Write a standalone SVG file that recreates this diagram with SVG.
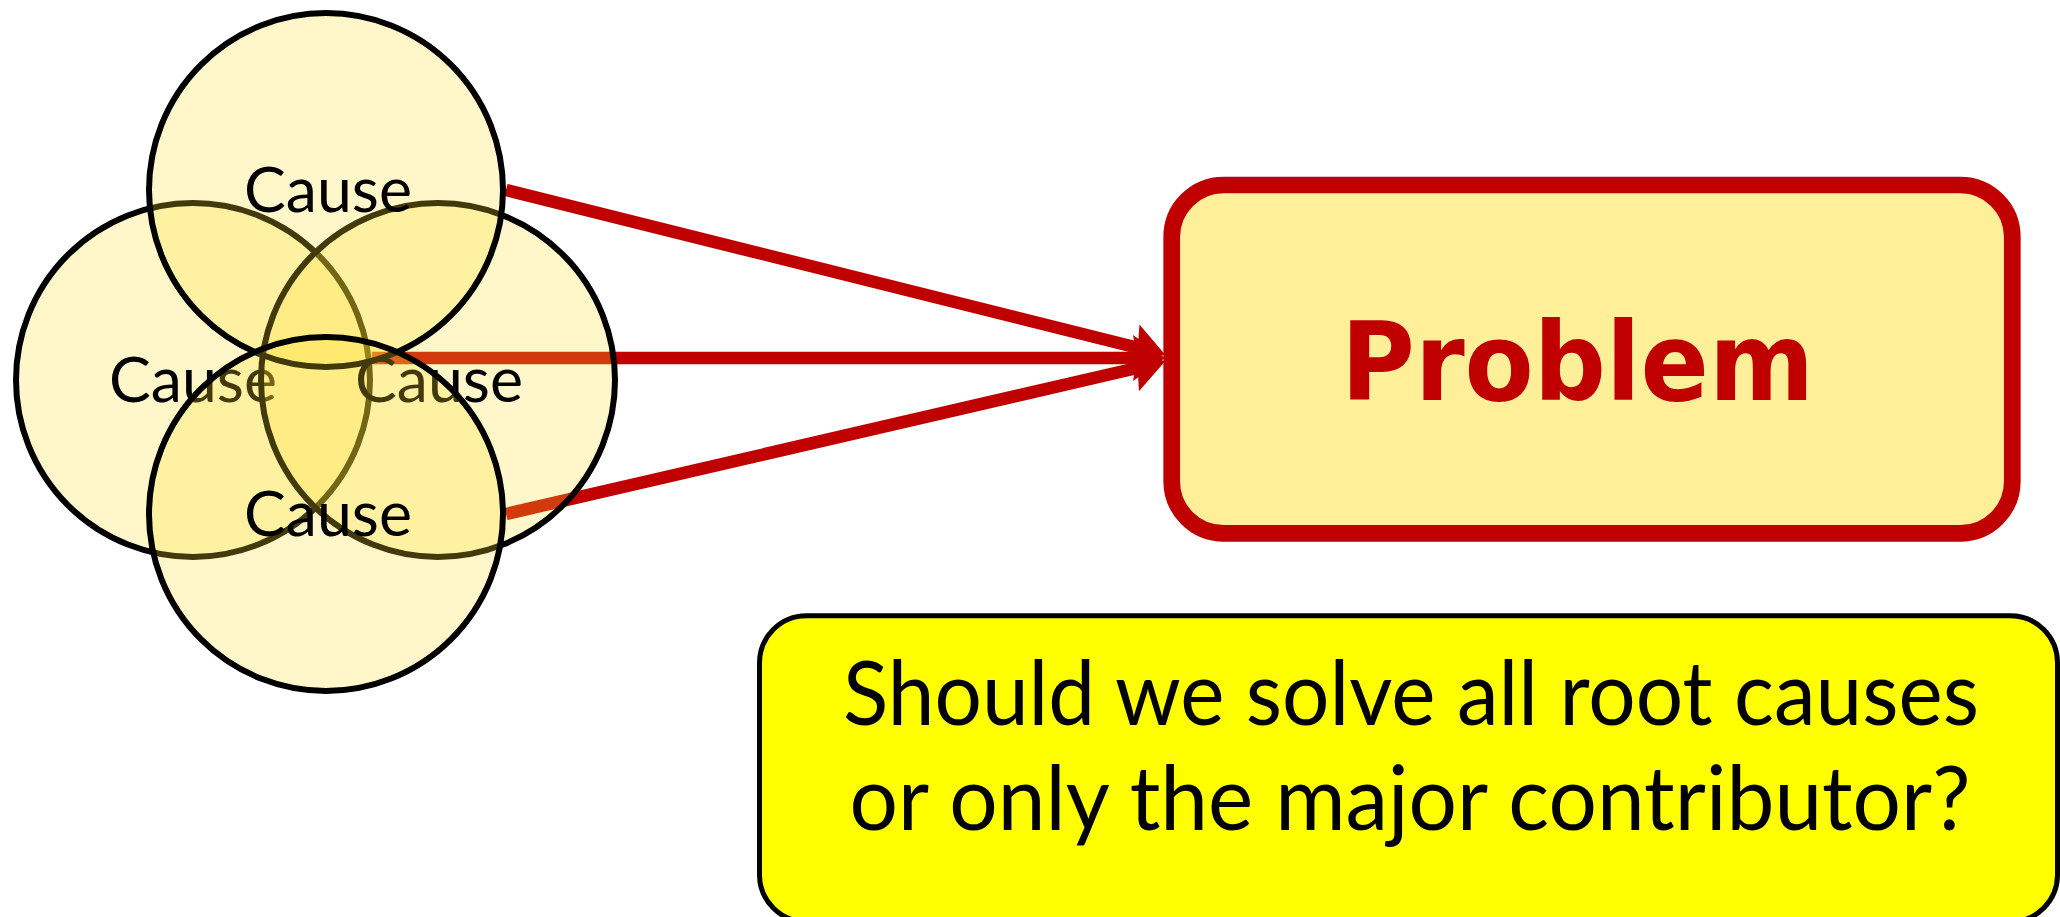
<svg xmlns="http://www.w3.org/2000/svg" width="2060" height="917" viewBox="0 0 2060 917">
  <defs>
    <marker id="arrow" markerUnits="userSpaceOnUse" markerWidth="32" markerHeight="50" viewBox="0 0 32 50" refX="10" refY="25" orient="auto">
      <path d="M0,2 L32,25 L0,48 L4,25 Z" fill="#C00000"/>
    </marker>
  </defs>
  <style>
    .conn { stroke: #C00000; stroke-width: 12.5; fill: none; marker-end: url(#arrow); }
    .cause circle { fill: #FFE033; fill-opacity: 0.26; stroke: #000; stroke-width: 6; }
    .cause text { font-family: Lato, "Liberation Sans", sans-serif; font-size: 62px; fill: #000; text-anchor: middle; }
    .problem rect { fill: #FFEF99; stroke: #C00000; stroke-width: 16.7; }
    .problem text { font-family: "DejaVu Sans", Verdana, sans-serif; font-weight: bold; font-size: 108px; fill: #C00000; }
    .question rect { fill: #FFFF00; stroke: #000; stroke-width: 5; }
    .question text { font-family: Lato, "Liberation Sans", sans-serif; font-size: 89px; fill: #000; text-anchor: middle; }
  </style>
  <rect width="2060" height="917" fill="#FFFFFF"/>

  <g id="connectors">
    <line class="conn" x1="506" y1="190" x2="1143.6" y2="349.2"/>
    <line class="conn" x1="372" y1="358" x2="1143" y2="358"/>
    <line class="conn" x1="506" y1="514" x2="1143.5" y2="366.5"/>
  </g>

  <g id="cause-left" class="cause">
    <circle cx="193" cy="380" r="177"/>
    <text x="193" y="402" textLength="168" lengthAdjust="spacingAndGlyphs">Cause</text>
  </g>
  <g id="cause-right" class="cause">
    <circle cx="438" cy="380" r="177"/>
    <text x="439" y="402" textLength="168" lengthAdjust="spacingAndGlyphs">Cause</text>
  </g>
  <g id="cause-top" class="cause">
    <circle cx="326" cy="190" r="177"/>
    <text x="328" y="212" textLength="168" lengthAdjust="spacingAndGlyphs">Cause</text>
  </g>
  <g id="cause-bottom" class="cause">
    <circle cx="326" cy="514" r="177"/>
    <text x="328" y="536" textLength="168" lengthAdjust="spacingAndGlyphs">Cause</text>
  </g>

  <g id="problem" class="problem">
    <rect x="1171.7" y="185" width="840.6" height="348.3" rx="52" ry="52"/>
    <text x="1341" y="400" textLength="473" lengthAdjust="spacingAndGlyphs">Problem</text>
  </g>

  <g id="question" class="question">
    <rect x="759.5" y="615.8" width="1298" height="306" rx="47" ry="47"/>
    <text x="1411" y="725" textLength="1136" lengthAdjust="spacingAndGlyphs">Should we solve all root causes</text>
    <text x="1410" y="830" textLength="1121" lengthAdjust="spacingAndGlyphs">or only the major contributor?</text>
  </g>
</svg>
